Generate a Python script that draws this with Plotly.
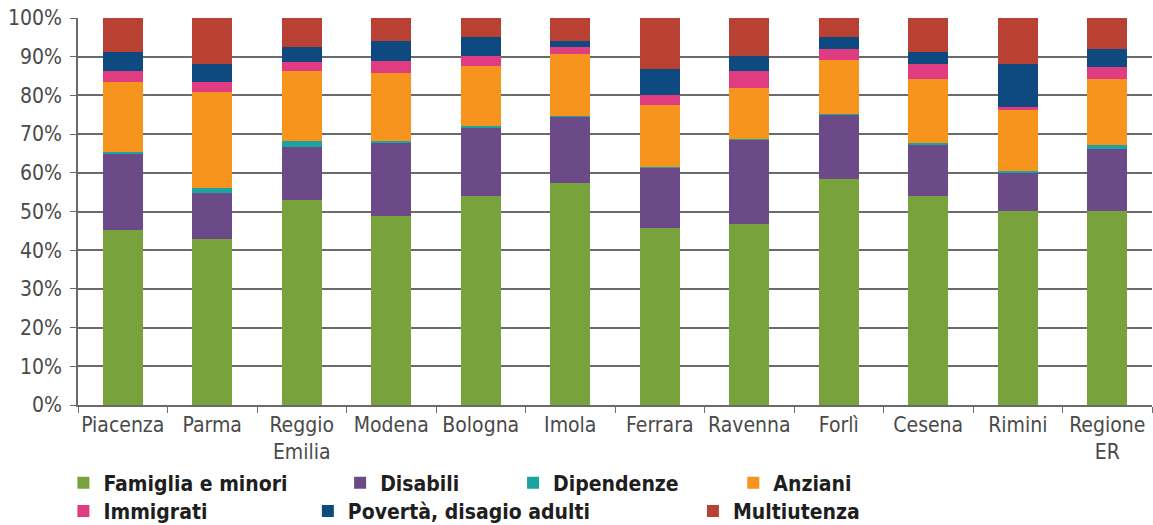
import plotly.graph_objects as go

# categorie (province) e serie in percentuale
categorie = ['Piacenza', 'Parma', 'Reggio<br>Emilia', 'Modena', 'Bologna', 'Imola',
             'Ferrara', 'Ravenna', 'Forlì', 'Cesena', 'Rimini', 'Regione<br>ER']

famiglia_minori = [45.3, 42.9, 53.1, 48.8, 54.0, 57.4, 45.8, 46.7, 58.3, 54.0, 50.1, 50.1]
disabili = [19.7, 11.9, 13.6, 18.9, 17.6, 17.2, 15.5, 21.9, 16.7, 13.4, 9.9, 16.1]
dipendenze = [0.5, 1.4, 1.5, 0.5, 0.5, 0.2, 0.3, 0.2, 0.2, 0.4, 0.4, 1.1]
anziani = [17.9, 24.7, 18.1, 17.6, 15.6, 16.0, 16.0, 13.1, 14.0, 16.5, 15.7, 17.0]
immigrati = [2.8, 2.5, 2.3, 3.2, 2.4, 1.8, 2.4, 4.3, 2.8, 3.9, 0.9, 3.0]
poverta = [5.0, 4.8, 4.0, 5.0, 5.0, 1.4, 6.7, 3.9, 3.1, 3.0, 11.2, 4.7]
multiutenza = [8.8, 11.8, 7.4, 6.0, 4.9, 6.0, 13.3, 9.9, 4.9, 8.8, 11.8, 8.0]

y_ticks = [0, 10, 20, 30, 40, 50, 60, 70, 80, 90, 100]
y_labels = ['0%', '10%', '20%', '30%', '40%', '50%', '60%', '70%', '80%', '90%', '100%']

FONT = 'DejaVu Sans Condensed, Liberation Sans Narrow, DejaVu Sans, sans-serif'

serie = [
    ('Famiglia e minori', famiglia_minori, '#77a23c'),
    ('Disabili', disabili, '#6b4a87'),
    ('Dipendenze', dipendenze, '#1ba39f'),
    ('Anziani', anziani, '#f7941e'),
    ('Immigrati', immigrati, '#e03c81'),
    ('Povertà, disagio adulti', poverta, '#0e4a80'),
    ('Multiutenza', multiutenza, '#b94134'),
]

# posizione della legenda (x, y in frazione del contenitore)
pos_legenda = [
    (0.055, 0.080), (0.295, 0.080), (0.445, 0.080), (0.636, 0.080),
    (0.055, 0.026), (0.267, 0.026), (0.601, 0.026),
]

fig = go.Figure()
layout_legende = {}
for i, (nome, valori, colore) in enumerate(serie):
    leg = 'legend' if i == 0 else f'legend{i + 1}'
    fig.add_trace(go.Bar(
        x=categorie,
        y=valori,
        name=nome,
        marker=dict(color=colore, line=dict(width=0)),
        legend=leg,
    ))
    layout_legende[leg] = dict(
        x=pos_legenda[i][0], y=pos_legenda[i][1],
        xref='container', yref='container',
        xanchor='left', yanchor='middle',
        orientation='h',
        bgcolor='rgba(0,0,0,0)',
        font=dict(family=FONT, size=21, color='#1e1e1e', weight='bold'),
    )

fig.update_layout(
    barmode='stack',
    bargap=0.553,
    width=1153,
    height=525,
    margin=dict(l=78, r=1, t=18, b=120, autoexpand=False),
    plot_bgcolor='white',
    paper_bgcolor='white',
    showlegend=True,
    font=dict(family=FONT, color='#4a4a4a'),
    **layout_legende,
)

fig.update_xaxes(
    automargin=False,
    tickangle=0,
    showline=True, linecolor='#6a6a6a', linewidth=1.5,
    ticks='outside', tickson='boundaries', ticklen=6, tickcolor='#6a6a6a',
    tickfont=dict(family=FONT, size=21, color='#4a4a4a'),
    showgrid=False,
)
fig.update_yaxes(
    automargin=False,
    range=[0, 100],
    tickvals=y_ticks,
    ticktext=y_labels,
    showline=True, linecolor='#6a6a6a', linewidth=1.5,
    ticks='outside', ticklen=6, tickcolor='#6a6a6a',
    ticklabelstandoff=4,
    showgrid=True, gridcolor='#6a6a6a', gridwidth=1.5,
    tickfont=dict(family=FONT, size=21, color='#4a4a4a'),
    zeroline=False,
)

# niente margine del body, cosi il grafico parte da (0, 0)
fig.write_html('out.html', config={'displayModeBar': False},
               post_script="document.body.style.margin='0';")
